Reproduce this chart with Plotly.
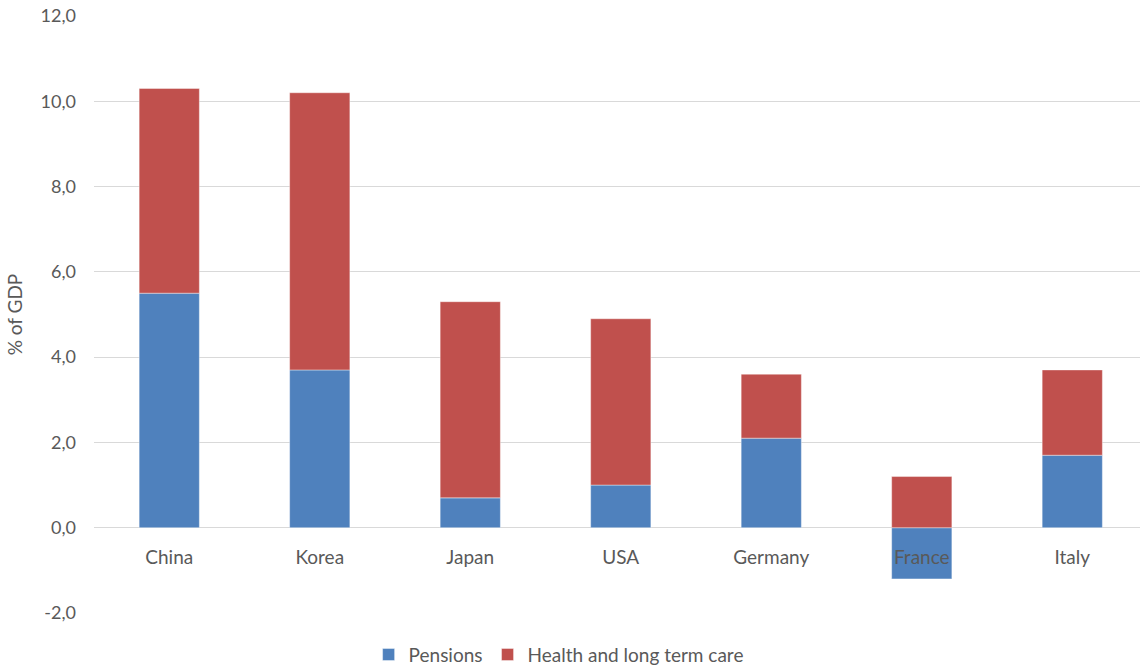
import plotly.graph_objects as go

countries = ["China", "Korea", "Japan", "USA", "Germany", "France", "Italy"]
pensions = [5.5, 3.7, 0.7, 1.0, 2.1, -1.2, 1.7]
health = [4.8, 6.5, 4.6, 3.9, 1.5, 1.2, 2.0]
ytick_vals = [-2, 0, 2, 4, 6, 8, 10, 12]
ytick_text = ["-2,0", "0,0", "2,0", "4,0", "6,0", "8,0", "10,0", "12,0"]

FONT = "Lato"
GRAY = "#595959"

fig = go.Figure()
fig.add_trace(go.Bar(x=countries, y=pensions, name="Pensions",
                     marker=dict(color="#4F81BD", line=dict(color="rgba(255,255,255,0.5)", width=0.8))))
fig.add_trace(go.Bar(x=countries, y=health, name="Health and long term care",
                     marker=dict(color="#C0504D", line=dict(color="rgba(255,255,255,0.5)", width=0.8))))

fig.update_layout(
    barmode="relative",
    bargap=0.6,
    width=1140, height=666,
    margin=dict(l=94, r=0, t=16, b=53, autoexpand=False),
    paper_bgcolor="white", plot_bgcolor="white",
    font=dict(family=FONT, size=18, color=GRAY),
    legend=dict(orientation="h", xref="container", yref="container",
                x=0.49, y=0.017, xanchor="center", yanchor="middle",
                font=dict(size=19, color=GRAY), itemwidth=30,
                traceorder="normal"),
    showlegend=True,
)
fig.update_xaxes(
    range=[-0.5, 6.45],
    anchor="free", position=2/14,
    showgrid=False, showline=False, zeroline=False,
    ticks="outside", ticklen=12, tickcolor="rgba(0,0,0,0)",
    tickfont=dict(size=19, color=GRAY),
)
fig.update_yaxes(
    range=[-2, 12],
    tickvals=ytick_vals, ticktext=ytick_text,
    showgrid=True, gridcolor="#D9D9D9", gridwidth=1.3,
    zeroline=False, showline=False,
    ticklabelstandoff=17,
    tickfont=dict(size=18, color=GRAY),
    title=dict(text="% of GDP", font=dict(size=19, color=GRAY), standoff=12),
    automargin=False,
)

fig.write_html("out.html")
